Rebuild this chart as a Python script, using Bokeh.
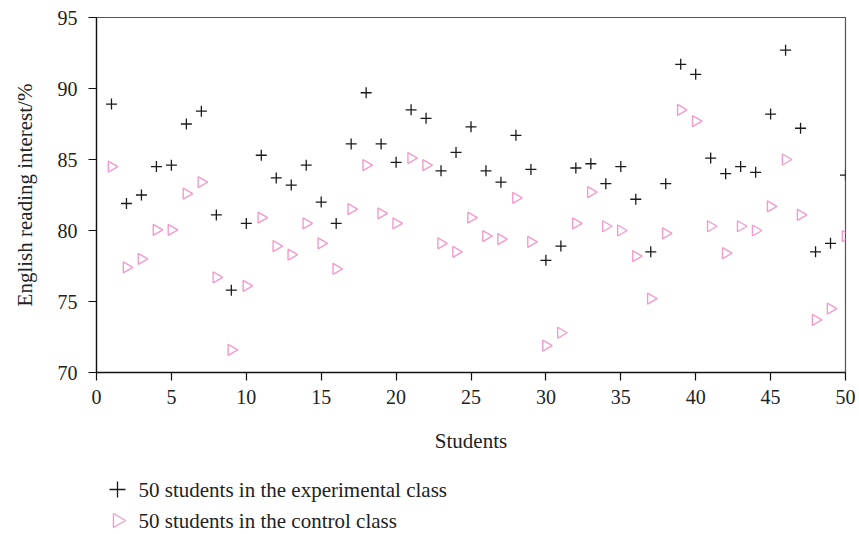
import math
from bokeh.plotting import figure
from bokeh.layouts import column
from bokeh.models import FixedTicker, Range1d, ColumnDataSource
from bokeh.core.properties import value
from bokeh.embed import file_html
from bokeh.resources import INLINE

students = list(range(1, 51))
experimental = [88.9, 81.9, 82.5, 84.5, 84.6, 87.5, 88.4, 81.1, 75.8, 80.5,
                85.3, 83.7, 83.2, 84.6, 82.0, 80.5, 86.1, 89.7, 86.1, 84.8,
                88.5, 87.9, 84.2, 85.5, 87.3, 84.2, 83.4, 86.7, 84.3, 77.9,
                78.9, 84.4, 84.7, 83.3, 84.5, 82.2, 78.5, 83.3, 91.7, 91.0,
                85.1, 84.0, 84.5, 84.1, 88.2, 92.7, 87.2, 78.5, 79.1, 83.9]
control = [84.5, 77.4, 78.0, 80.05, 80.05, 82.6, 83.4, 76.7, 71.6, 76.1,
           80.9, 78.9, 78.3, 80.5, 79.1, 77.3, 81.5, 84.6, 81.2, 80.5,
           85.1, 84.6, 79.1, 78.5, 80.9, 79.6, 79.4, 82.3, 79.2, 71.9,
           72.8, 80.5, 82.7, 80.3, 80.0, 78.2, 75.2, 79.8, 88.5, 87.7,
           80.3, 78.4, 80.3, 80.0, 81.7, 85.0, 81.1, 73.7, 74.5, 79.6]
x_ticks = [0, 5, 10, 15, 20, 25, 30, 35, 40, 45, 50]
y_ticks = [70, 75, 80, 85, 90, 95]
legend_labels = ["50 students in the experimental class",
                 "50 students in the control class"]

FONT = "Liberation Serif"
PINK = "#f39ccb"
INK = "#1a1a1a"

FRAME_L, FRAME_W, FRAME_R = 96, 749, 14

# ---------------- main chart ----------------
p = figure(output_backend="svg", toolbar_location=None,
           x_range=Range1d(0, 50), y_range=Range1d(70, 95),
           frame_width=FRAME_W, frame_height=355,
           min_border_left=FRAME_L, min_border_right=FRAME_R,
           min_border_top=17, min_border_bottom=90)

p.grid.visible = False
p.outline_line_color = "#555555"
p.outline_line_width = 1.2

src_e = ColumnDataSource(dict(x=students, y=experimental))
src_c = ColumnDataSource(dict(x=students, y=control))
p.scatter("x", "y", source=src_c, marker="triangle", size=11, angle=-math.pi / 2,
          fill_color=None, line_color=PINK, line_width=1.4)
p.scatter("x", "y", source=src_e, marker="cross", size=11,
          line_color=INK, line_width=1.3)

for ax in (p.xaxis[0], p.yaxis[0]):
    ax.axis_line_color = "#111111"
    ax.axis_line_width = 1.3
    ax.major_tick_line_color = "#111111"
    ax.major_tick_line_width = 1.2
    ax.major_tick_out = 8
    ax.major_tick_in = 0
    ax.minor_tick_line_color = None
    ax.major_label_text_font = FONT
    ax.major_label_text_font_size = "20px"
    ax.major_label_text_color = "#222222"
    ax.axis_label_text_font = FONT
    ax.axis_label_text_font_size = "21px"
    ax.axis_label_text_font_style = "normal"
    ax.axis_label_text_color = "#222222"

p.xaxis.ticker = FixedTicker(ticks=x_ticks)
p.yaxis.ticker = FixedTicker(ticks=y_ticks)
p.xaxis.axis_label = "Students"
p.yaxis.axis_label = "English reading interest/%"
p.xaxis.major_label_standoff = 9
p.xaxis.axis_label_standoff = 22
p.yaxis.major_label_standoff = 11
p.yaxis.axis_label_standoff = 18

# ---------------- legend strip below the chart ----------------
LEG_H = 72
ROW_GAP = 31
lg = figure(output_backend="svg", toolbar_location=None,
            frame_width=FRAME_W, frame_height=LEG_H,
            x_range=Range1d(FRAME_L, FRAME_L + FRAME_W), y_range=Range1d(0, LEG_H),
            min_border_left=FRAME_L, min_border_right=FRAME_R,
            min_border_top=0, min_border_bottom=0)
lg.axis.visible = False
lg.grid.visible = False
lg.outline_line_color = None

first_row_y = 45
rows_y = [first_row_y - i * ROW_GAP for i in range(len(legend_labels))]
mark_x = 117
text_x = 138
leg_src = ColumnDataSource(dict(
    x=[mark_x] * 2, y=rows_y, tx=[text_x] * 2, label=legend_labels,
    marker=["cross", "triangle"], angle=[0.0, -math.pi / 2], size=[16, 14],
    line=[INK, PINK], lw=[1.3, 1.4]))
lg.scatter("x", "y", source=leg_src, marker="marker", size="size", angle="angle",
           fill_color=None, line_color="line", line_width="lw")
lg.text("tx", "y", text="label", source=leg_src, text_font=value(FONT),
        text_font_size="21px", text_baseline="middle", text_align="left",
        text_color="#222222")

layout = column(p, lg, spacing=0)
open("out.html", "w").write(file_html(layout, INLINE))
